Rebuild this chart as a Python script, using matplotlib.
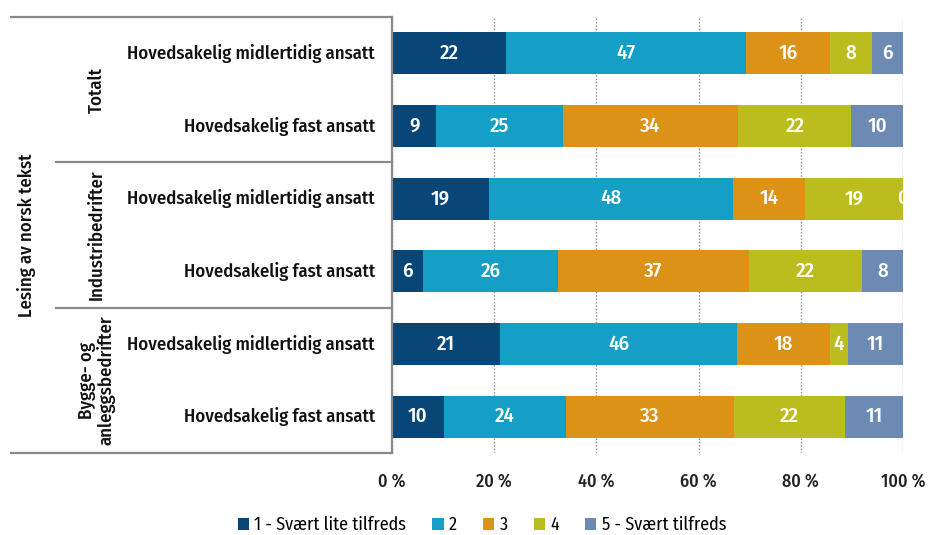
import matplotlib
matplotlib.use("Agg")
import matplotlib.pyplot as plt
from matplotlib.lines import Line2D
from matplotlib.patches import Patch
import numpy as np

plt.rcParams["font.family"] = ["Fira Sans Condensed", "DejaVu Sans"]

# Data
outer_label = "Lesing av norsk tekst"
groups = ["Totalt", "Industribedrifter", "Bygge- og\nanleggsbedrifter"]
row_labels = ["Hovedsakelig midlertidig ansatt", "Hovedsakelig fast ansatt"] * 3
series_names = ["1 - Svært lite tilfreds", "2", "3", "4", "5 - Svært tilfreds"]
s1 = [22.3, 8.7, 19.0, 6.1, 21.2, 10.1]
s2 = [47.0, 24.7, 47.7, 26.4, 46.4, 23.9]
s3 = [16.4, 34.4, 14.2, 37.3, 18.1, 33.0]
s4 = [8.2, 22.1, 19.1, 22.1, 3.6, 21.6]
s5 = [6.1, 10.1, 0.0, 8.1, 10.7, 11.4]
x_ticks = [0, 20, 40, 60, 80, 100]
x_tick_labels = ["0 %", "20 %", "40 %", "60 %", "80 %", "100 %"]

colors = ["#084677", "#159fc7", "#dc9217", "#bbbd1e", "#6d8ab5"]
grey = "#8a8a8a"
ink = "#111111"

W, H = 931, 535
fig = plt.figure(figsize=(W / 100, H / 100), dpi=100)
ax_l, ax_r, ax_t, ax_b = 392, 903, 17, 453
ax = fig.add_axes([ax_l / W, 1 - ax_b / H, (ax_r - ax_l) / W, (ax_b - ax_t) / H])

def px_to_axx(px):
    return (px - ax_l) / (ax_r - ax_l)

def px_to_axy(py):
    return (ax_b - py) / (ax_b - ax_t)

y = np.arange(len(row_labels))
series = [s1, s2, s3, s4, s5]
left = np.zeros(len(y))
for vals, col, name in zip(series, colors, series_names):
    vals = np.array(vals)
    ax.barh(y, vals, left=left, height=0.58, color=col, label=name, zorder=3)
    for yi, (l, v) in enumerate(zip(left, vals)):
        ax.text(l + v / 2, yi, f"{round(v):d}", ha="center", va="center",
                color="white", fontsize=15, fontweight="medium", zorder=4, clip_on=True)
    left += vals

ax.set_xlim(0, 100)
ax.set_ylim(len(y) - 0.5, -0.5)
ax.set_xticks(x_ticks)
ax.set_xticklabels(x_tick_labels, fontsize=13, fontweight="medium", color="#222222")
ax.tick_params(axis="x", length=0, pad=14)
ax.set_yticks([])
ax.grid(axis="x", linestyle=(0, (1.2, 1.2)), color="#9a9a9a", linewidth=1.0, zorder=0)
for s in ["top", "right", "bottom"]:
    ax.spines[s].set_visible(False)
ax.spines["left"].set_color(grey)
ax.spines["left"].set_linewidth(1.6)
ax.spines["left"].set_zorder(5)

# Row labels
for yi, lab in enumerate(row_labels):
    ax.text(px_to_axx(375), yi, lab, transform=ax.get_yaxis_transform(),
            ha="right", va="center", fontsize=13.5, fontweight="medium", color=ink)

# Frame lines for the category table
def hline(py, x0):
    ax.add_line(Line2D([px_to_axx(x0), 0], [px_to_axy(py)] * 2, transform=ax.transAxes,
                       color=grey, linewidth=1.6, clip_on=False))

hline(ax_t, 11)
hline(ax_b, 11)
hline(162, 56)
hline(308, 56)

# Group and outer labels
ax.text(px_to_axx(27), 0.5, outer_label, transform=ax.transAxes, rotation=90,
        ha="center", va="center", fontsize=13.5, fontweight="medium", color=ink)
for gi, g in enumerate(groups):
    yc = gi * 2 + 0.5
    ax.text(px_to_axx(97), yc, g, transform=ax.get_yaxis_transform(), rotation=90,
            ha="center", va="center", fontsize=13.5, fontweight="medium", color=ink,
            linespacing=1.0)

handles = [Patch(facecolor=c, edgecolor="none") for c in colors]
fig.legend(handles, series_names, loc="center", bbox_to_anchor=(482 / W, 1 - 525 / H),
           ncol=5, frameon=False, fontsize=13, handlelength=0.61, handleheight=0.61,
           handletextpad=0.3, columnspacing=1.45, borderpad=0.2)

fig.savefig("out.png", dpi=100)
